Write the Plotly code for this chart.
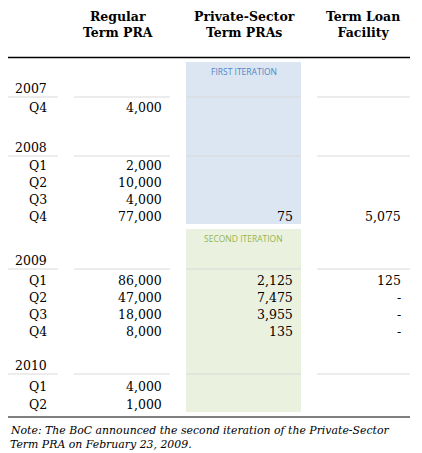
import plotly.graph_objects as go

# table content
periods = ["2007", "Q4", "2008", "Q1", "Q2", "Q3", "Q4", "2009", "Q1", "Q2", "Q3", "Q4", "2010", "Q1", "Q2"]
is_year = [p.isdigit() for p in periods]
regular_pra = [None, 4000, None, 2000, 10000, 4000, 77000, None, 86000, 47000, 18000, 8000, None, 4000, 1000]
private_pra = [None, None, None, None, None, None, 75, None, 2125, 7475, 3955, 135, None, None, None]
term_loan = [None, None, None, None, None, None, 5075, None, 125, 0, 0, 0, None, None, None]
headers = ["Regular<br>Term PRA", "Private-Sector<br>Term PRAs", "Term Loan<br>Facility"]
note_lines = ["Note: The BoC announced the second iteration of the Private-Sector",
              "Term PRA on February 23, 2009."]

# layout (pixel units on the axes; page body has an 8px margin, so ranges are shifted)
W, H = 422, 453
OFF = 8
row_y = [88, 107, 147, 165, 182, 199, 216, 260, 280, 297, 314, 331, 365, 386, 404]
label_right = 49
col_right = [164, 295, 403]
col_center = [118, 244, 363]
col_span = [(74, 170), (186, 301), (317, 410)]
shade = [(62, 224, "#dce6f2", "FIRST ITERATION", "#4f86c6"),
         (229, 412, "#ebf1df", "SECOND ITERATION", "#94b64f")]

SERIF = "DejaVu Serif"
FS = 12.5


def fmt(v):
    if v is None:
        return ""
    if v == 0:
        return "-"
    return f"{v:,}"


fig = go.Figure()
fig.add_trace(go.Scatter(x=[OFF, W + OFF], y=[OFF, H + OFF], mode="markers",
                         marker=dict(opacity=0), hoverinfo="skip", showlegend=False))

shapes = []
annotations = []

for y0, y1, color, label, tcolor in shade:
    x0, x1 = col_span[1]
    shapes.append(dict(type="rect", xref="x", yref="y", x0=x0, x1=x1, y0=y0, y1=y1,
                       fillcolor=color, line=dict(width=0), layer="below"))
    annotations.append(dict(x=(x0 + x1) / 2, y=y0 + 9.5, xref="x", yref="y", text=label,
                            showarrow=False, font=dict(family="Open Sans", size=8.5, color=tcolor)))

# header rule and bottom rule
shapes.append(dict(type="line", xref="x", yref="y", x0=8, x1=410, y0=57.5, y1=57.5,
                   line=dict(color="black", width=1.5)))
shapes.append(dict(type="line", xref="x", yref="y", x0=8, x1=410, y0=417, y1=417,
                   line=dict(color="black", width=1.2)))

# thin rules under the year rows
for y, yr in zip(row_y, is_year):
    if not yr:
        continue
    for x0, x1 in [(8, 58)] + col_span:
        shapes.append(dict(type="line", xref="x", yref="y", x0=x0, x1=x1, y0=y + 9, y1=y + 9,
                           line=dict(color="#d9d9d9", width=1)))

for text, xc in zip(headers, col_center):
    annotations.append(dict(x=xc, y=24.5, xref="x", yref="y", text=f"<b>{text}</b>",
                            showarrow=False, font=dict(family=SERIF, size=FS, color="black")))

for i, p in enumerate(periods):
    cells = [p, fmt(regular_pra[i]), fmt(private_pra[i]), fmt(term_loan[i])]
    for text, xr in zip(cells, [label_right] + col_right):
        if not text:
            continue
        annotations.append(dict(x=xr, y=row_y[i], xref="x", yref="y", text=text,
                                xanchor="right", showarrow=False,
                                font=dict(family=SERIF, size=FS, color="black")))

for line, y in zip(note_lines, [430, 444]):
    annotations.append(dict(x=8, y=y, xref="x", yref="y", text=f"<i>{line}</i>",
                            xanchor="left", showarrow=False,
                            font=dict(family=SERIF, size=10.9, color="black")))

fig.update_layout(
    width=W, height=H, margin=dict(l=0, r=0, t=0, b=0),
    paper_bgcolor="white", plot_bgcolor="white",
    xaxis=dict(range=[OFF, W + OFF], visible=False, fixedrange=True),
    yaxis=dict(range=[H + OFF, OFF], visible=False, fixedrange=True),
    shapes=shapes, annotations=annotations,
)

fig.write_html("out.html")
